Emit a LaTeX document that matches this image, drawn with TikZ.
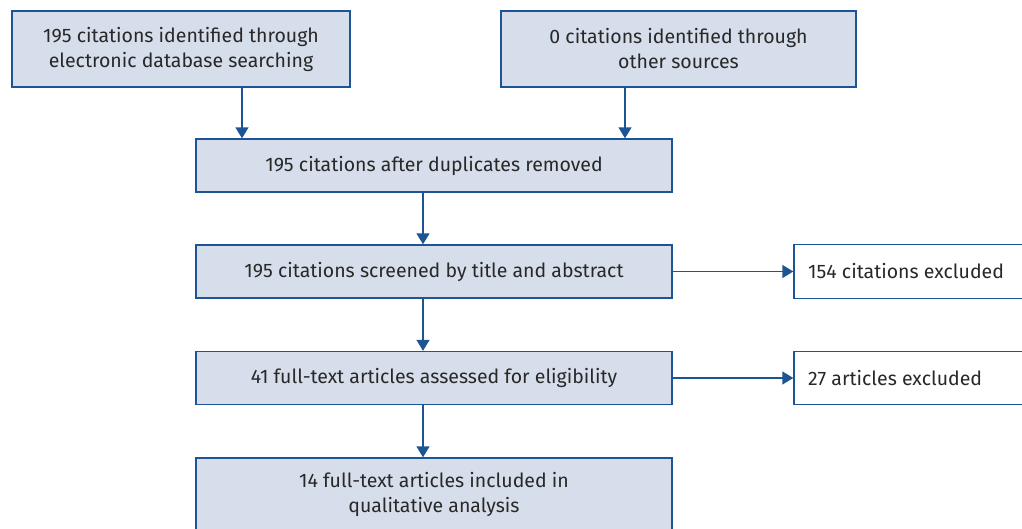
\documentclass[tikz,border=0pt]{standalone}
\usepackage{fontspec}
\setmainfont{Fira Sans}
\usetikzlibrary{arrows.meta}
\definecolor{boxfill}{RGB}{214,222,235}
\definecolor{boxline}{RGB}{28,84,148}
\definecolor{txt}{RGB}{40,40,40}
\begin{document}
\begin{tikzpicture}[x=1pt,y=-1pt,
  txtfont/.style={font=\fontsize{19.5}{25}\selectfont},
  box/.style={draw=boxline, line width=1.4pt, fill=boxfill, text=txt, align=center, inner sep=0pt, txtfont},
  sidebox/.style={draw=boxline, line width=1.4pt, fill=white, inner sep=0pt},
  conn/.style={draw=boxline, line width=1.4pt, -{Triangle[length=11pt,width=13pt]}}]
\useasboundingbox (0,0) rectangle (1022,528);
\node[box, minimum width=338pt, minimum height=76pt] (a) at (181,49) {195 citations identified through\\electronic database searching};
\node[box, minimum width=355pt, minimum height=76pt] (b) at (678.5,49) {0 citations identified through\\other sources};
\node[box, minimum width=476pt, minimum height=53pt] (c) at (434,165.5) {195 citations after duplicates removed};
\node[box, minimum width=476pt, minimum height=53pt] (d) at (434,271.5) {195 citations screened by title and abstract};
\node[box, minimum width=476pt, minimum height=53pt] (e) at (434,378) {41 full-text articles assessed for eligibility};
\node[box, minimum width=476pt, minimum height=73pt] (f) at (434,494.5) {14 full-text articles included in\\qualitative analysis};
\node[sidebox, minimum width=240pt, minimum height=54pt] (g) at (914,271.5) {};
\node[sidebox, minimum width=240pt, minimum height=53pt] (h) at (914,378) {};
\node[anchor=west, text=txt, inner sep=0pt, txtfont] (gt) at (808,271) {154 citations excluded};
\node[anchor=west, text=txt, inner sep=0pt, txtfont] (ht) at (808,378) {27 articles excluded};
\draw[conn] (a.south -| 242,0) -- (c.north -| 242,0);
\draw[conn] (b.south -| 625,0) -- (c.north -| 625,0);
\draw[conn] (c.south -| 423,0) -- (d.north -| 423,0);
\draw[conn] (d.south -| 423,0) -- (e.north -| 423,0);
\draw[conn] (e.south -| 423,0) -- (f.north -| 423,0);
\draw[conn] (d) -- (g);
\draw[conn] (e) -- (h);
\end{tikzpicture}
\end{document}
